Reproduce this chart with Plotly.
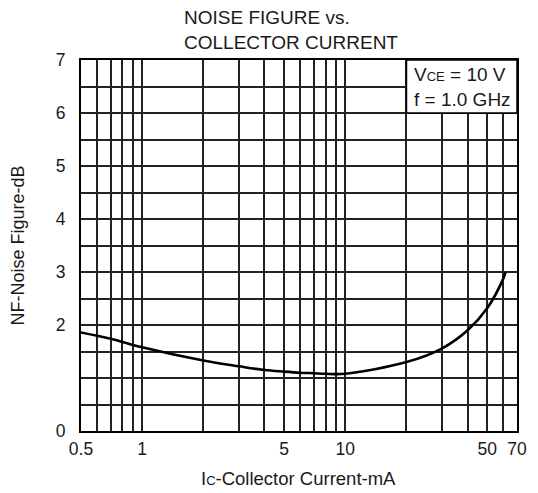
import math
import plotly.graph_objects as go

# ---- data ----
ic_ma = [0.5, 0.7, 1, 2, 3, 4, 5, 6, 7, 8, 10, 20, 30, 40, 50, 60, 61.5]
nf_db = [1.86, 1.74, 1.58, 1.33, 1.22, 1.15, 1.12, 1.10, 1.09, 1.08, 1.08, 1.30, 1.56, 1.90, 2.32, 2.88, 3.0]

x_grid = [0.5, 0.6, 0.7, 0.8, 0.9, 1, 2, 3, 4, 5, 6, 7, 8, 9, 10, 20, 30, 40, 50, 60, 70]
x_labels = ["0.5", "", "", "", "", "1", "", "", "", "5", "", "", "", "", "10", "", "", "", "50", "", "70"]
y_grid = [0, 0.5, 1, 1.5, 2, 2.5, 3, 3.5, 4, 4.5, 5, 5.5, 6, 6.5, 7]
y_labels = ["0", "", "", "", "2", "", "3", "", "4", "", "5", "", "6", "", "7"]

title_text = "NOISE FIGURE vs.<br>COLLECTOR CURRENT"
x_title = "I<span style='font-size:13px'>C</span>-Collector Current-mA"
y_title = "NF-Noise Figure-dB"
cond_text = "V<span style='font-size:13px'>CE</span> = 10 V<br>f = 1.0 GHz"

FONT = "Liberation Sans, Arial, sans-serif"
TXT = "#1a1a1a"

fig = go.Figure()
fig.add_trace(go.Scatter(x=ic_ma, y=nf_db, mode="lines",
                         line=dict(color="black", width=2.6, shape="spline", smoothing=1.0),
                         showlegend=False, hoverinfo="skip"))

fig.add_shape(type="rect", xref="x", yref="y", x0=20, x1=70, y0=6, y1=7,
              fillcolor="white", line=dict(color="black", width=1.5), layer="above")

fig.update_layout(
    width=538, height=493,
    margin=dict(l=81, r=11, t=60, b=62),
    paper_bgcolor="white", plot_bgcolor="white",
    font=dict(family=FONT, color=TXT),
    showlegend=False,
    xaxis=dict(type="log", range=[math.log10(0.5), math.log10(70)],
               tickmode="array", tickvals=x_grid, ticktext=x_labels,
               showgrid=True, gridcolor="#222222", gridwidth=1.5,
               showline=True, linecolor="black", linewidth=1.8, mirror=True,
               ticks="", tickfont=dict(size=17.5, family=FONT, color=TXT),
               ticklabelstandoff=1, zeroline=False, fixedrange=True),
    yaxis=dict(range=[0, 7], tickmode="array", tickvals=y_grid, ticktext=y_labels,
               showgrid=True, gridcolor="#222222", gridwidth=1.5,
               showline=True, linecolor="black", linewidth=1.8, mirror=True,
               ticks="", tickfont=dict(size=17.5, family=FONT, color=TXT),
               ticklabelstandoff=10, zeroline=False, fixedrange=True),
)

fig.add_annotation(text=title_text, xref="paper", yref="paper",
                   x=(184 - 81) / 446, y=(430.7 - 30) / 370.7,
                   xanchor="left", yanchor="middle", align="left", showarrow=False,
                   font=dict(size=19, family=FONT, color=TXT))
fig.add_annotation(text=x_title, xref="paper", yref="paper",
                   x=(303 - 81) / 446, y=(430.7 - 478) / 370.7,
                   xanchor="center", yanchor="middle", showarrow=False,
                   font=dict(size=18.5, family=FONT, color=TXT))
fig.add_annotation(text=y_title, xref="paper", yref="paper",
                   x=(17 - 81) / 446, y=(430.7 - 245) / 370.7, textangle=-90,
                   xanchor="center", yanchor="middle", showarrow=False,
                   font=dict(size=18, family=FONT, color=TXT))
fig.add_annotation(text=cond_text, xref="paper", yref="paper",
                   x=(420 - 81) / 446, y=(430.7 - 87) / 370.7,
                   xanchor="left", yanchor="middle", align="left", showarrow=False,
                   font=dict(size=19, family=FONT, color=TXT))

fig.write_html("out.html")
